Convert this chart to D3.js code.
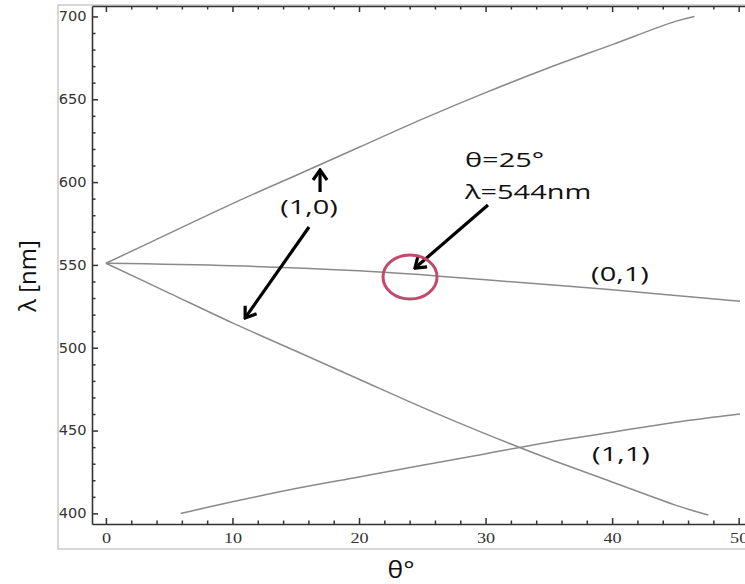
<!DOCTYPE html>
<html>
<head>
<meta charset="utf-8">
<script src="https://cdn.jsdelivr.net/npm/d3@7"></script>
<style>
  body { margin: 0; background: #fff; }
  .tick line { stroke: #333; }
  .domain { stroke: #333; stroke-width: 1.6px; }
</style>
</head>
<body>
<div id="chart"></div>
<script>
// (1,0) upper branch
var theta10a = [0, 5, 10, 15, 20, 25, 30, 35, 40, 45, 46.5];
var lambda10a = [551, 569, 587, 604, 621, 638, 654, 669, 683, 697, 700];
// (1,0) lower branch
var theta10b = [0, 5, 10, 15, 20, 25, 30, 35, 40, 45, 47.6];
var lambda10b = [551, 533, 515, 498, 481, 464, 448, 433, 419, 405, 399];
// (0,1)
var theta01 = [0, 10, 20, 25, 30, 40, 50.1];
var lambda01 = [551, 549.5, 546.5, 544, 541, 535, 528];
// (1,1)
var theta11 = [5.9, 10, 15, 20, 25, 30, 35, 40, 45, 50.1];
var lambda11 = [400, 407, 415, 422, 429, 436, 443, 449, 455, 460];

var xMajor = [0, 10, 20, 30, 40, 50];
var yMajor = [400, 450, 500, 550, 600, 650, 700];

var svgWidth = 745;
var svgHeight = 584;

var svg = d3.select("#chart")
  .append("svg")
  .attr("width", svgWidth)
  .attr("height", svgHeight);

var x = d3.scaleLinear().domain([-1.1, 50.5]).range([92, 745]);
var y = d3.scaleLinear().domain([393.6, 706.3]).range([524, 6]);

// screenshot frame
svg.append("rect")
  .attr("x", 58).attr("y", 5)
  .attr("width", 720).attr("height", 544)
  .attr("fill", "#fff")
  .attr("stroke", "#bdbdbd")
  .attr("stroke-width", 1.2);

var xMinor = d3.range(0, 51, 2).filter(function(d) { return d % 10 !== 0; });
var yMinor = d3.range(400, 701, 10).filter(function(d) { return d % 50 !== 0; });

// bottom axis
var gx = svg.append("g")
  .attr("transform", "translate(0,524)")
  .call(d3.axisBottom(x).tickValues(xMajor).tickSizeInner(-6).tickSizeOuter(0).tickPadding(9));
gx.selectAll("text")
  .attr("font-family", "Liberation Serif")
  .attr("font-size", 14)
  .attr("fill", "#333")
  .attr("transform", "scale(1.3,1)");
svg.append("g")
  .attr("transform", "translate(0,524)")
  .call(d3.axisBottom(x).tickValues(xMinor).tickSizeInner(-3.5).tickSizeOuter(0).tickFormat(""))
  .select(".domain").remove();

// top axis
svg.append("g")
  .attr("transform", "translate(0,6)")
  .call(d3.axisTop(x).tickValues(xMajor).tickSizeInner(-6).tickSizeOuter(0).tickFormat(""));
svg.append("g")
  .attr("transform", "translate(0,6)")
  .call(d3.axisTop(x).tickValues(xMinor).tickSizeInner(-3.5).tickSizeOuter(0).tickFormat(""))
  .select(".domain").remove();

// left axis
var gy = svg.append("g")
  .attr("transform", "translate(92,0)")
  .call(d3.axisLeft(y).tickValues(yMajor).tickSizeInner(-6).tickSizeOuter(0).tickPadding(5));
gy.selectAll("text")
  .attr("font-family", "DejaVu Sans")
  .attr("font-size", 13.5)
  .attr("fill", "#333")
  .attr("transform", "scale(1.08,1)");
svg.append("g")
  .attr("transform", "translate(92,0)")
  .call(d3.axisLeft(y).tickValues(yMinor).tickSizeInner(-3.5).tickSizeOuter(0).tickFormat(""))
  .select(".domain").remove();

svg.selectAll(".tick line").attr("stroke-width", 1.5);

// curves
var line = d3.line()
  .x(function(d) { return x(d[0]); })
  .y(function(d) { return y(d[1]); })
  .curve(d3.curveCatmullRom);

var curves = [
  d3.zip(theta10a, lambda10a),
  d3.zip(theta10b, lambda10b),
  d3.zip(theta01, lambda01),
  d3.zip(theta11, lambda11)
];

svg.selectAll("path.curve")
  .data(curves)
  .enter().append("path")
    .attr("class", "curve")
    .attr("d", line)
    .attr("fill", "none")
    .attr("stroke", "#8a8a8a")
    .attr("stroke-width", 1.5);

// annotations
var defs = svg.append("defs");
defs.append("marker")
  .attr("id", "head")
  .attr("markerUnits", "userSpaceOnUse")
  .attr("viewBox", "-13 -9 15 18")
  .attr("markerWidth", 15).attr("markerHeight", 18)
  .attr("refX", 0).attr("refY", 0)
  .attr("orient", "auto")
  .append("path")
    .attr("d", "M-10,-7L0,0L-10,7")
    .attr("fill", "none")
    .attr("stroke", "#000")
    .attr("stroke-width", 3.2);

var arrows = [
  [16.92, 594.0, 16.92, 607.3],
  [16.05, 572.9, 11.0, 518.0],
  [30.19, 586.2, 24.42, 548.1]
];
svg.selectAll("line.arrow")
  .data(arrows)
  .enter().append("line")
    .attr("class", "arrow")
    .attr("x1", function(d) { return x(d[0]); })
    .attr("y1", function(d) { return y(d[1]); })
    .attr("x2", function(d) { return x(d[2]); })
    .attr("y2", function(d) { return y(d[3]); })
    .attr("stroke", "#000")
    .attr("stroke-width", 3.2)
    .attr("marker-end", "url(#head)");

svg.append("ellipse")
  .attr("cx", x(24.03))
  .attr("cy", y(542.7))
  .attr("rx", 27)
  .attr("ry", 22)
  .attr("fill", "none")
  .attr("stroke", "#c24a6c")
  .attr("stroke-width", 3);

var notes = [
  { text: "(1,0)", t: 16.05, l: 580.7, anchor: "middle" },
  { text: "θ=25°", t: 28.37, l: 609.1, anchor: "start" },
  { text: "λ=544nm", t: 28.37, l: 589.8, anchor: "start" },
  { text: "(0,1)", t: 40.62, l: 540.3, anchor: "middle" },
  { text: "(1,1)", t: 40.70, l: 431.6, anchor: "middle" }
];
svg.selectAll("text.note")
  .data(notes)
  .enter().append("text")
    .attr("class", "note")
    .attr("transform", function(d) { return "translate(" + x(d.t) + "," + y(d.l) + ") scale(1.45,1)"; })
    .attr("text-anchor", function(d) { return d.anchor; })
    .attr("font-family", "Open Sans")
    .attr("font-size", 20)
    .attr("fill", "#111")
    .text(function(d) { return d.text; });

// axis titles
svg.append("text")
  .attr("transform", "translate(401,578) scale(1.15,1)")
  .attr("text-anchor", "middle")
  .attr("font-family", "Open Sans")
  .attr("font-size", 23)
  .attr("fill", "#111")
  .text("θ°");

svg.append("text")
  .attr("transform", "translate(36,276) rotate(-90)")
  .attr("text-anchor", "middle")
  .attr("font-family", "Open Sans")
  .attr("font-size", 24)
  .attr("fill", "#111")
  .text("λ [nm]");
</script>
</body>
</html>
